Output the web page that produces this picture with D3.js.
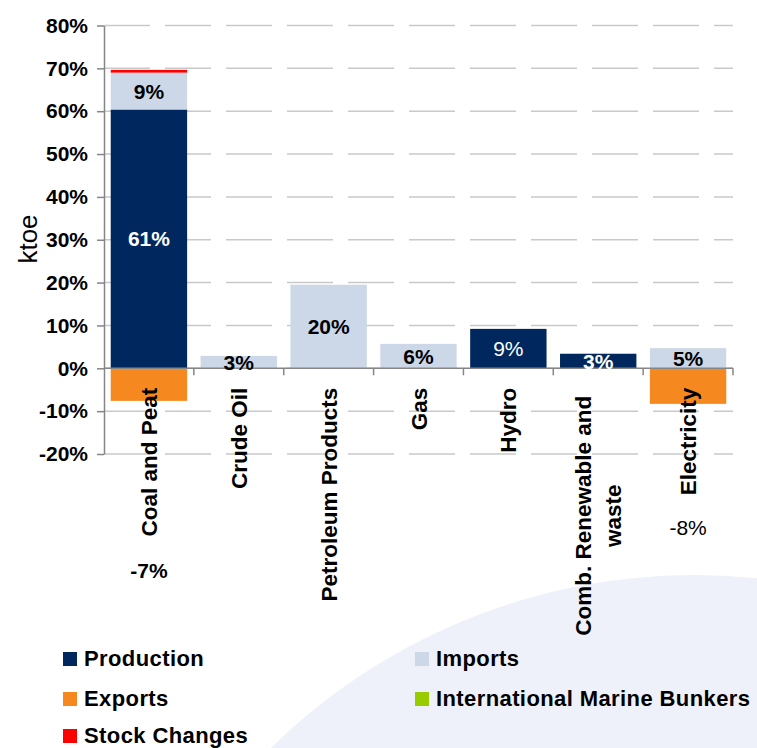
<!DOCTYPE html>
<html>
<head>
<meta charset="utf-8">
<script src="https://cdn.jsdelivr.net/npm/d3@7"></script>
<style>
  body { margin: 0; background: #fff; }
  svg { display: block; font-family: "Liberation Sans", Arial, sans-serif; }
</style>
</head>
<body>
<div id="chart"></div>
<script>
// Data
const categories = ["Coal and Peat", "Crude Oil", "Petroleum Products", "Gas", "Hydro", "Comb. Renewable and\nwaste", "Electricity"];
const production = [60.4, 0, 0, 0, 9.2, 3.4, 0];
const imports    = [8.6, 2.9, 19.5, 5.7, 0, 0, 4.7];
const exports    = [-7.6, 0, 0, 0, 0, 0, -8.3];
const bunkers    = [0, 0, 0, 0, 0, 0, 0];
const stock      = [0.65, 0, 0, 0, 0, 0, 0];

const productionLabels = ["61%", "", "", "", "9%", "3%", ""];
const importsLabels    = ["9%", "3%", "20%", "6%", "", "", "5%"];
const exportsLabels    = ["-7%", "", "", "", "", "", "-8%"];

const yTicks = [-20, -10, 0, 10, 20, 30, 40, 50, 60, 70, 80];

const seriesNames = ["Production", "Imports", "Exports", "International Marine Bunkers", "Stock Changes"];
const seriesColors = ["#00285e", "#ccd8e8", "#f5891f", "#99cc00", "#ff0000"];

// Layout
const width = 757, height = 748;
const margin = {top: 25.5, left: 104, right: 24, bottom: 294};
const innerRight = width - margin.right;
const exportLabelY = [570, null, null, null, null, null, 527];

const svg = d3.select("#chart").append("svg")
  .attr("width", width)
  .attr("height", height);

// background swoosh
svg.append("circle")
  .attr("cx", 694).attr("cy", 1179).attr("r", 604)
  .attr("fill", "#eef1f9");

// scales
const x = d3.scaleBand()
  .domain(categories)
  .range([margin.left, innerRight])
  .paddingInner(0.15)
  .paddingOuter(0.075);

const y = d3.scaleLinear()
  .domain([-20, 80])
  .range([454, margin.top]);

// gridlines
svg.append("g")
  .selectAll("line")
  .data(yTicks)
  .join("line")
    .attr("x1", margin.left)
    .attr("x2", innerRight)
    .attr("y1", d => y(d))
    .attr("y2", d => y(d))
    .attr("stroke", "#c9c9c9")
    .attr("stroke-width", 1.5)
    .attr("stroke-dasharray", "46,15");

// stacked data
const table = categories.map((c, i) => ({
  category: c,
  "Production": production[i],
  "Imports": imports[i],
  "Exports": exports[i],
  "International Marine Bunkers": bunkers[i],
  "Stock Changes": stock[i]
}));

const stacked = d3.stack()
  .keys(seriesNames)
  .offset(d3.stackOffsetDiverging)(table);

svg.append("g")
  .selectAll("g")
  .data(stacked)
  .join("g")
    .attr("fill", (d, i) => seriesColors[i])
  .selectAll("rect")
  .data(d => d)
  .join("rect")
    .attr("x", d => x(d.data.category))
    .attr("width", x.bandwidth())
    .attr("y", d => y(Math.max(d[0], d[1])))
    .attr("height", d => Math.abs(y(d[0]) - y(d[1])));

// axes
const yAxis = d3.axisLeft(y)
  .tickValues(yTicks)
  .tickFormat(d => d + "%")
  .tickSize(7)
  .tickSizeOuter(0)
  .tickPadding(9);

const yAxisG = svg.append("g")
  .attr("transform", `translate(${margin.left},0)`)
  .call(yAxis);
yAxisG.selectAll("path, line").attr("stroke", "#868686").attr("stroke-width", 1.5);
yAxisG.selectAll("text")
  .attr("fill", "#000")
  .style("font-size", "21px")
  .style("font-weight", "bold");

// x axis at zero, ticks on category boundaries
const xAxisG = svg.append("g");
xAxisG.append("line")
  .attr("x1", margin.left).attr("x2", innerRight)
  .attr("y1", y(0)).attr("y2", y(0))
  .attr("stroke", "#868686").attr("stroke-width", 1.5);
xAxisG.selectAll(".tick")
  .data(d3.range(1, categories.length + 1))
  .join("line")
    .attr("x1", i => x.range()[0] + i * x.step())
    .attr("x2", i => x.range()[0] + i * x.step())
    .attr("y1", y(0)).attr("y2", y(0) + 7)
    .attr("stroke", "#868686").attr("stroke-width", 1.5);

// segment labels
const cx = c => x(c) + x.bandwidth() / 2;
const labelG = svg.append("g")
  .attr("text-anchor", "middle")
  .style("font-size", "21px");

const prodBold = [true, false, false, false, false, true, false];
labelG.selectAll(".lp")
  .data(stacked[0].filter((d, i) => productionLabels[i]))
  .join("text")
    .attr("x", d => cx(d.data.category))
    .attr("y", d => y((d[0] + d[1]) / 2))
    .attr("dy", "0.36em")
    .attr("fill", "#fff")
    .style("font-weight", d => prodBold[categories.indexOf(d.data.category)] ? "bold" : "normal")
    .text(d => productionLabels[categories.indexOf(d.data.category)]);

labelG.selectAll(".li")
  .data(stacked[1].filter((d, i) => importsLabels[i]))
  .join("text")
    .attr("x", d => cx(d.data.category))
    .attr("y", d => y((d[0] + d[1]) / 2))
    .attr("dy", "0.36em")
    .attr("fill", "#000")
    .style("font-weight", "bold")
    .text(d => importsLabels[categories.indexOf(d.data.category)]);

labelG.selectAll(".le")
  .data(categories.filter((c, i) => exportsLabels[i]))
  .join("text")
    .attr("x", c => cx(c))
    .attr("y", c => exportLabelY[categories.indexOf(c)])
    .attr("dy", "0.36em")
    .attr("fill", "#000")
    .style("font-weight", (c, i) => i === 0 ? "bold" : "normal")
    .text(c => exportsLabels[categories.indexOf(c)]);

// category labels, rotated
const catTop = y(0) + 19.5;
const catG = svg.append("g")
  .selectAll("g")
  .data(categories)
  .join("g")
    .attr("transform", c => `translate(${cx(c)},${catTop + (c.includes("\n") ? 8 : 0)}) rotate(-90)`)
    .style("font-size", "22.5px")
    .style("font-weight", "bold");

catG.each(function(c) {
  const lines = c.split("\n");
  const g = d3.select(this);
  const texts = g.selectAll("text")
    .data(lines)
    .join("text")
      .attr("y", (d, i) => (i - (lines.length - 1) / 2) * 30)
      .attr("dy", "0.36em")
      .attr("fill", "#000")
      .text(d => d);
  const maxLen = d3.max(texts.nodes(), n => n.getComputedTextLength());
  texts.attr("x", -maxLen / 2).attr("text-anchor", "middle");
});

// y title
svg.append("text")
  .attr("transform", "translate(37,239) rotate(-90)")
  .attr("text-anchor", "middle")
  .style("font-size", "26px")
  .text("ktoe");

// legend
const legendPos = [[63, 652], [415, 652], [63, 692], [415, 692], [63, 729]];
const legend = svg.append("g")
  .selectAll("g")
  .data(seriesNames)
  .join("g")
    .attr("transform", (d, i) => `translate(${legendPos[i][0]},${legendPos[i][1]})`);
legend.append("rect")
  .attr("width", 14).attr("height", 14)
  .attr("fill", (d, i) => seriesColors[i]);
legend.append("text")
  .attr("x", 21).attr("y", 13.5)
  .style("font-size", "22px")
  .style("font-weight", "bold")
  .style("letter-spacing", "0.4px")
  .text(d => d);
</script>
</body>
</html>
